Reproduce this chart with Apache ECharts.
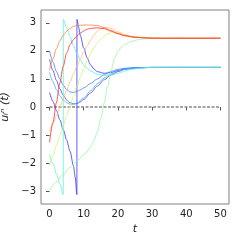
<!DOCTYPE html>
<html><head><meta charset="utf-8">
<script src="https://cdn.jsdelivr.net/npm/echarts@6/dist/echarts.min.js"></script>
<style>html,body{margin:0;padding:0;background:#fff}#c{width:240px;height:240px}</style>
</head><body><div id="c"></div>
<script>
const xTicks = [0, 10, 20, 30, 40, 50];
const yTicks = [-3, -2, -1, 0, 1, 2, 3];
const seriesNames = ['B', 'blueWrap', 'A', 'C', 'aqua', 'green', 'yellow', 'peach', 'orange', 'red'];
const seriesColors = ['#5548d8', '#3636ff', '#4f7df5', '#3cb4f0', '#5ff0d8', '#9cf5a0', '#d8f070', '#ffc070', '#ff8040', '#ff3030'];
const lineB = [[0,1.7],[1,1.3],[2,0.95],[3,0.65],[4,0.42],[5,0.25],[6,0.15],[7,0.11],[8,0.12],[9,0.18],[10,0.27],[12,0.5],[14,0.75],[16,0.97],[18,1.14],[20,1.26],[22,1.34],[25,1.39],[30,1.41],[50,1.41]];
const lineBlueWrap = [[0,0.52],[1,0.2],[2,-0.12],[3,-0.45],[4,-0.8],[5,-1.17],[6,-1.58],[7,-2.1],[7.5,-2.5],[8,-3.12],[8.02,3.12],[8.5,2.85],[9,2.55],[10,2.1],[11,1.75],[12,1.5],[13,1.35],[14,1.26],[16,1.2],[18,1.23],[20,1.3],[22,1.36],[25,1.4],[30,1.41],[50,1.41]];
const lineA = [[0,2.0],[1,1.6],[2,1.27],[3,1.0],[4,0.78],[5,0.62],[6,0.54],[7,0.52],[8,0.55],[9,0.61],[10,0.68],[12,0.84],[14,1.0],[16,1.15],[18,1.27],[20,1.34],[22,1.38],[25,1.4],[30,1.41],[50,1.41]];
const lineC = [[0,1.23],[1,0.9],[2,0.62],[3,0.4],[4,0.25],[5,0.15],[6,0.1],[7,0.1],[8,0.14],[10,0.32],[12,0.58],[14,0.83],[16,1.03],[18,1.18],[20,1.28],[22,1.35],[25,1.39],[30,1.41],[50,1.41]];
const lineAqua = [[0,-1.69],[1,-2.02],[2,-2.37],[3,-2.74],[4,-3.12],[4.02,3.12],[5,2.82],[6,2.5],[7,2.18],[8,1.9],[9,1.68],[10,1.5],[11,1.37],[12,1.28],[14,1.17],[16,1.13],[18,1.14],[20,1.2],[22,1.28],[24,1.34],[27,1.39],[30,1.41],[50,1.41]];
const lineGreen = [[0,-2.97],[2,-2.67],[4,-2.4],[6,-2.15],[8,-1.93],[10,-1.7],[11,-1.58],[12,-1.42],[13,-1.2],[14,-0.88],[15,-0.42],[16,0.15],[17,0.75],[18,1.3],[19,1.72],[20,1.98],[21,2.13],[22,2.23],[24,2.34],[26,2.4],[28,2.43],[32,2.45],[50,2.45]];
const lineYellow = [[0,-2.1],[1,-1.73],[2,-1.37],[3,-1.02],[4,-0.67],[5,-0.32],[6,0.03],[7,0.38],[8,0.73],[9,1.06],[10,1.37],[11,1.65],[12,1.9],[13,2.1],[14,2.28],[15,2.42],[16,2.53],[17,2.6],[18,2.64],[19,2.65],[20,2.64],[22,2.58],[24,2.52],[27,2.47],[32,2.45],[50,2.45]];
const linePeach = [[0,-0.87],[1,-0.6],[2,-0.32],[3,-0.02],[4,0.3],[5,0.6],[6,0.9],[7,1.18],[8,1.45],[9,1.72],[10,1.97],[11,2.18],[12,2.38],[13,2.56],[14,2.7],[15,2.79],[16,2.83],[17,2.83],[18,2.79],[20,2.68],[22,2.58],[24,2.51],[27,2.47],[32,2.45],[50,2.45]];
const lineOrange = [[0,1.3],[1,1.72],[2,2.07],[3,2.35],[4,2.55],[5,2.7],[6,2.8],[7,2.87],[8,2.9],[10,2.92],[12,2.92],[14,2.9],[16,2.83],[18,2.73],[20,2.62],[22,2.54],[24,2.5],[27,2.47],[32,2.45],[50,2.45]];
const lineRed = [[0,-1.26],[1,-0.55],[2,0.15],[3,0.85],[4,1.45],[5,1.92],[6,2.22],[7,2.4],[8,2.53],[9,2.63],[10,2.71],[11,2.77],[12,2.8],[14,2.82],[16,2.79],[18,2.7],[20,2.61],[22,2.54],[25,2.48],[30,2.45],[50,2.45]];
const zeroLine = [[0,0],[50,0]];

const allLines = [lineB, lineBlueWrap, lineA, lineC, lineAqua, lineGreen, lineYellow, linePeach, lineOrange, lineRed];

const chart = echarts.init(document.getElementById('c'), null, {renderer:'canvas'});
const series = allLines.map((d, i) => ({
  name: seriesNames[i], type: 'line', data: d, showSymbol: false, smooth: 0.3, smoothMonotone: 'x',
  lineStyle: {color: seriesColors[i], width: 1, opacity: 0.8}, silent: true, z: 2
}));
series.unshift({
  type: 'line', data: zeroLine, showSymbol: false, silent: true, z: 1,
  lineStyle: {color: '#888', width: 1.3, type: [3, 1.5]}
});
chart.setOption({
  animation: false,
  grid: {left: 41, top: 10, right: 11, bottom: 36, outerBoundsMode: 'none', containLabel: false,
    show: true, borderColor: '#808080', borderWidth: 1, backgroundColor: 'transparent'},
  xAxis: {
    type: 'value', min: -2.5, max: 52.5,
    name: 't', nameLocation: 'middle', nameGap: 13,
    nameTextStyle: {fontFamily: 'DejaVu Sans', fontSize: 11, fontStyle: 'italic', color: '#222'},
    axisLine: {show: false},
    axisTick: {show: true, length: 3.5, lineStyle: {color: '#555'}, customValues: xTicks},
    axisLabel: {fontFamily: 'DejaVu Sans', fontSize: 10, color: '#222', margin: 5, customValues: xTicks},
    splitLine: {show: false}
  },
  yAxis: {
    type: 'value', min: -3.455, max: 3.455,
    name: 'uᵢⁿ (t)', nameLocation: 'middle', nameGap: 20, nameRotate: 90,
    nameTextStyle: {fontFamily: 'DejaVu Sans', fontSize: 11, fontStyle: 'italic', color: '#222'},
    axisLine: {show: false},
    axisTick: {show: true, length: 3.5, lineStyle: {color: '#555'}, customValues: yTicks},
    axisLabel: {fontFamily: 'DejaVu Sans', fontSize: 10, color: '#222', margin: 5, customValues: yTicks,
      formatter: v => (v < 0 ? '\u2212' + Math.abs(v) : String(v))},
    splitLine: {show: false}
  },
  series: series
});
</script></body></html>
